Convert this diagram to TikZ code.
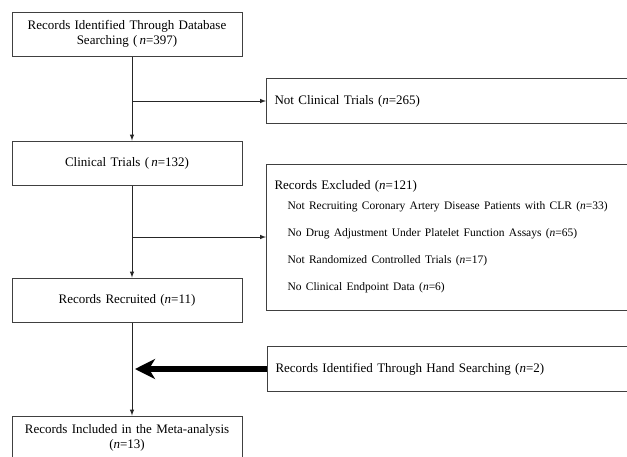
\documentclass[tikz,border=0pt]{standalone}
\usepackage{fontspec}
\setmainfont{Liberation Serif}
\usepackage{tikz}
\usetikzlibrary{positioning, arrows, arrows.meta, shapes}
\setlength{\parindent}{0pt}
\tikzstyle{mblock} = [rectangle, draw=black!75, line width=1pt, text width=226pt, 
align=center, minimum width=230pt, minimum height=44pt, inner sep=0pt]
\tikzstyle{sblock} = [rectangle, draw=black!75, line width=1pt, text width=364pt, 
align=left, minimum width=380pt, minimum height=45pt, inner xsep=8pt, anchor=west]
\tikzstyle{arrow} = [line width=1pt, draw=black!85, ->, >=latex]
\tikzstyle{bigarrow} = [line width=6pt, -{Stealth[length=20pt, width=20pt, inset=6pt]}]
\newcommand{\exitem}[1]{\hspace*{13pt}{\fontsize{11.5}{27}\selectfont #1}}

\begin{document}
\begin{tikzpicture}[x=1pt, y=-1pt, node distance=137pt]
                \tikzstyle{every node}=[font=\fontsize{13}{15}\selectfont]
                \useasboundingbox (0,0) rectangle (627,456);
                \node (1) [mblock] at (127,34) {Records Identified Through Database\\Searching (\,\textit{n}=397)};
                \node (2) [mblock, below of=1, yshift=8pt] {Clinical Trials (\,\textit{n}=132)};
                \node (3) [mblock, below of=2] {Records Recruited (\textit{n}=11)};
                \node (4) [mblock, below of=3, yshift=-1pt] {Records Included in the Meta-analysis\\(\textit{n}=13)};
                \node (nct) [sblock] at (266,101) {Not Clinical Trials (\textit{n}=265)};
                \node (excl) [sblock, minimum height=146pt, font=\fontsize{13}{27}\selectfont] at (266,237) 
                        {Records Excluded (\textit{n}=121)\\[-7pt]
                         \exitem{Not Recruiting Coronary Artery Disease Patients with CLR (\textit{n}=33)}\\
                         \exitem{No Drug Adjustment Under Platelet Function Assays (\textit{n}=65)}\\
                         \exitem{Not Randomized Controlled Trials (\textit{n}=17)}\\
                         \exitem{No Clinical Endpoint Data (\textit{n}=6)}};
                \node (hand) [sblock] at (267,369) {Records Identified Through Hand Searching (\textit{n}=2)};
                \coordinate (spine) at (132,0);
                \draw [arrow] (spine |- 1.south) -- (spine |- 2.north);
                \draw [arrow] (spine |- 2.south) -- (spine |- 3.north);
                \draw [arrow] (spine |- 3.south) -- (spine |- 4.north);
                \draw [arrow] (spine |- nct.west) -- (nct.west);
                \draw [arrow] (spine |- excl.west) -- (excl.west);
                \draw [bigarrow] (hand.west) -- ([xshift=3pt]spine |- hand.west);
        \end{tikzpicture}
\end{document}
